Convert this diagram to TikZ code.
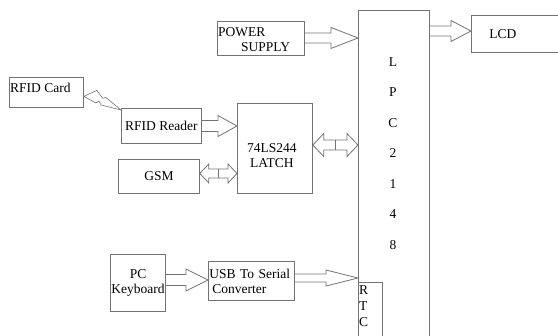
\documentclass[tikz,border=0pt]{standalone}
\usepackage{fontspec}
\setmainfont{Liberation Serif}
\usetikzlibrary{calc}
\tikzset{
  blk/.style={draw=black!55,line width=0.8pt,anchor=north west,inner sep=1pt},
  fat/.style={draw=black!55,line width=0.8pt,line join=miter},
  bolt/.style={draw=black!55,line width=0.6pt,line join=miter},
}
% fat arrow: from, to, y of tip, shaft half, head half, head length
\newcommand{\fatarrow}[6]{%
  \draw[fat] let \p1=(#1), \p2=(#2), \p3=(0,#3) in
    (\x1,\y3+#4) -- (\x2-#6,\y3+#4) -- (\x2-#6,\y3+#5) -- (\x2,\y3)
    -- (\x2-#6,\y3-#5) -- (\x2-#6,\y3-#4) -- (\x1,\y3-#4);}
% double fat arrow with the joint in the middle
\newcommand{\dblarrow}[6]{%
  \draw[fat] let \p1=(#1), \p2=(#2), \p3=(0,#3) in
    (\x1,\y3) -- (\x1+#6,\y3+#5) -- (\x1+#6,\y3+#4) -- (\x2-#6,\y3+#4)
    -- (\x2-#6,\y3+#5) -- (\x2,\y3) -- (\x2-#6,\y3-#5) -- (\x2-#6,\y3-#4)
    -- (\x1+#6,\y3-#4) -- (\x1+#6,\y3-#5) -- cycle
    (0.5*\x1+0.5*\x2,\y3+#4) -- (0.5*\x1+0.5*\x2,\y3-#4);}
\begin{document}
\begin{tikzpicture}[x=1pt,y=-1pt,every node/.style={font=\fontsize{13.5}{15}\selectfont}]
  \clip (0,0) rectangle (558,336);
  \node[blk,minimum width=87,minimum height=34] (power) at (217,21) {};
  \node[anchor=north west,align=left,inner sep=1pt] (powertxt) at ([yshift=-5pt]power.north west) {POWER\\\hspace*{23pt}SUPPLY};
  \node[blk,minimum height=37,text width=80,inner xsep=18pt,align=left] (lcd) at (471,15) {LCD};
  \node[blk,minimum width=71,minimum height=340] (lpc) at (358,10) {};
  \foreach \ch [count=\i from 0] in {L,P,C,2,1,4,8}
    \node (lpc\i) at (393,62+30.5*\i) {\ch};
  \node[blk,minimum width=24,minimum height=70] (rtc) at (358,282) {};
  \node[anchor=north west,align=left,inner xsep=1pt,inner ysep=3pt,font=\fontsize{13.5}{16}\selectfont] (rtctxt) at (rtc.north west) {R\\T\\C};
  \node[blk,minimum width=74,minimum height=30] (card) at (9,77) {};
  \node[anchor=north west,inner sep=1pt] (cardtxt) at ([yshift=-5pt]card.north west) {RFID Card};
  \node[blk,minimum width=80,minimum height=35] (reader) at (121,108) {RFID Reader};
  \node[blk,minimum width=75,minimum height=90] (latch) at (237,103) {};
  \node[align=center] (latchtxt) at ([shift={(-3,7)}]latch.center) {74LS244\\LATCH};
  \node[blk,minimum width=81,minimum height=34] (gsm) at (118,159) {GSM};
  \node[blk,minimum width=55,minimum height=57,align=center] (pc) at (110,254) {PC\\Keyboard};
  \node[blk,minimum width=86,minimum height=39,text width=84,align=left] (usb) at (208,261) {USB To Serial\\\hspace*{3pt}Converter};
  \draw[bolt] ([yshift=-4pt]card.east) -- ++(13,-6) -- ++(6,8) -- ++(3,-1) -- ([yshift=-2pt]reader.north west)
    -- ++(-20,-5) -- ++(-2,-4) -- ++(-3,2) -- cycle;
  \fatarrow{reader.east}{latch.west}{126}{5.5}{10.5}{19}
  \fatarrow{power.east}{lpc.west}{38}{5}{10.5}{27}
  \fatarrow{lpc.east}{lcd.west}{31}{5}{10.5}{20}
  \fatarrow{pc.east}{usb.west}{280}{5.5}{11}{22}
  \fatarrow{usb.east}{lpc.west}{278}{4}{8}{32}
  \dblarrow{latch.east}{lpc.west}{145}{5}{11.5}{11}
  \dblarrow{gsm.east}{latch.west}{173.5}{4.5}{9.5}{9}
\end{tikzpicture}
\end{document}
